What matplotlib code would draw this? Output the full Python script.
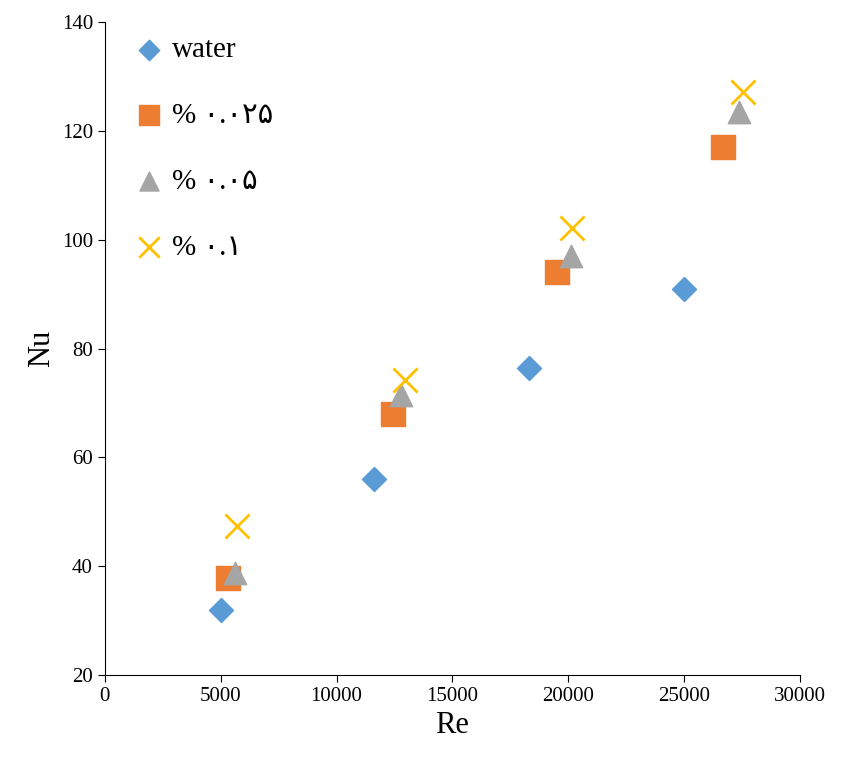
import matplotlib.pyplot as plt

re_water = [5000, 11600, 18300, 25000]
nu_water = [32, 56, 76.5, 91]
re_025 = [5300, 12450, 19500, 26650]
nu_025 = [37.8, 68, 94, 117]
re_05 = [5600, 12800, 20100, 27350]
nu_05 = [38.8, 71.5, 97, 123.5]
re_1 = [5700, 12950, 20150, 27550]
nu_1 = [47.3, 74.2, 102.2, 127.2]

labels = ["water", "% \u06f0.\u06f0\u06f2\u06f5", "% \u06f0.\u06f0\u06f5", "% \u06f0.\u06f1"]

plt.rcParams["font.family"] = ["Liberation Serif", "DejaVu Sans"]

fig = plt.figure(figsize=(8.45, 7.67), dpi=100)
ax = fig.add_axes([0.124, 0.12, 0.823, 0.851])

ax.scatter(re_water, nu_water, marker="D", s=150, color="#5B9BD5", label=labels[0], zorder=3)
ax.scatter(re_025, nu_025, marker="s", s=300, color="#ED7D31", label=labels[1], zorder=3)
ax.scatter(re_05, nu_05, marker="^", s=260, color="#A5A5A5", label=labels[2], zorder=4)
ax.scatter(re_1, nu_1, marker="x", s=300, color="#FFC000", linewidths=2, label=labels[3], zorder=5)

ax.set_xlim(0, 30000)
ax.set_ylim(20, 140)
ax.set_xticks(range(0, 30001, 5000))
ax.set_yticks(range(20, 141, 20))
ax.tick_params(labelsize=15, direction="out", length=5)
ax.set_xlabel("Re", fontsize=22)
ax.set_ylabel("Nu", fontsize=22)
for s in ["top", "right"]:
    ax.spines[s].set_visible(False)

ax.legend(loc="upper left", frameon=False, fontsize=21, handletextpad=-0.2,
          labelspacing=1.35, borderaxespad=0.1, markerscale=0.85)

fig.savefig("out.png", dpi=100)
